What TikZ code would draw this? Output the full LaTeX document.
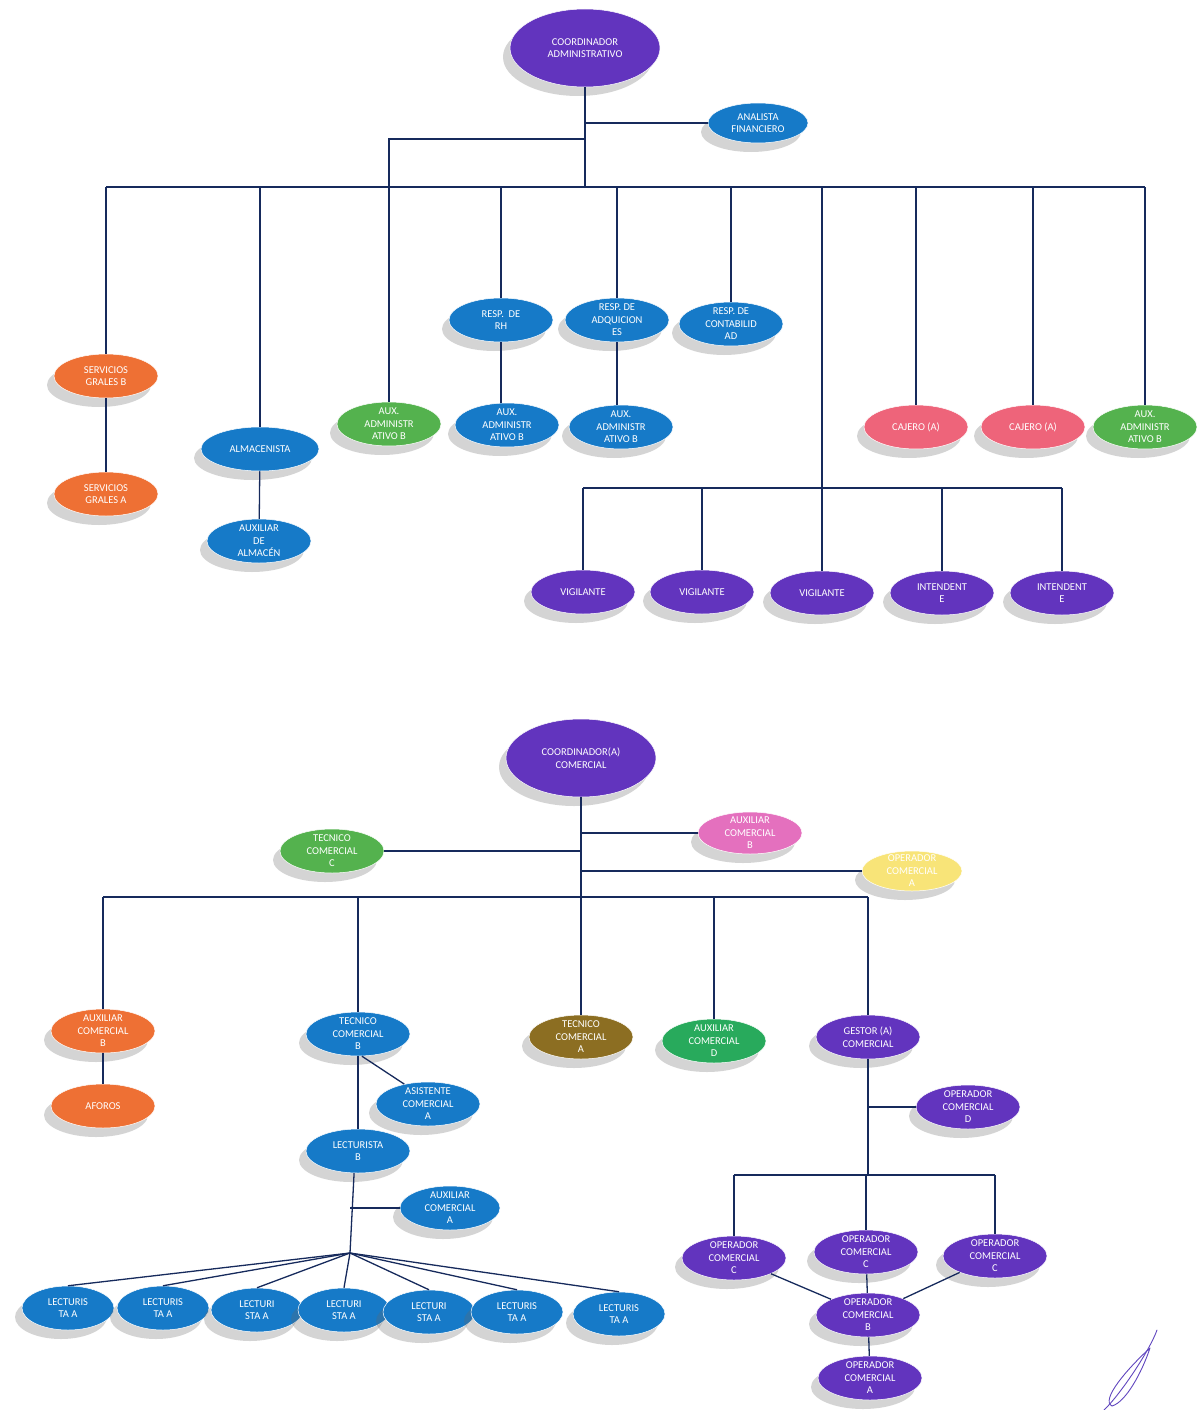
\documentclass[tikz,border=0pt]{standalone}
\usepackage{fontspec}
\setmainfont{Carlito}
\usetikzlibrary{shapes.geometric,shadows}
\definecolor{linea}{RGB}{22,42,92}
\definecolor{morado}{RGB}{98,52,190}
\definecolor{azul}{RGB}{22,122,200}
\definecolor{naranja}{RGB}{238,112,52}
\definecolor{verde}{RGB}{84,178,78}
\definecolor{verdeB}{RGB}{40,170,92}
\definecolor{rosa}{RGB}{238,100,122}
\definecolor{rosaB}{RGB}{228,112,190}
\definecolor{amarillo}{RGB}{248,228,120}
\definecolor{olivo}{RGB}{140,110,34}
\definecolor{tinta}{RGB}{96,70,190}

\begin{document}
\begin{tikzpicture}[x=1pt,y=-1pt,
    puesto/.style={ellipse, draw=white, line width=0.5pt, inner xsep=0pt, inner ysep=-4pt,
        minimum width=104pt, minimum height=44pt, text=white, align=center,
        font=\fontsize{10.5}{12.5}\selectfont,
        drop shadow={shadow xshift=-7pt, shadow yshift=-9pt, opacity=0.28, fill=black!60}},
    jefe/.style={puesto, minimum width=150pt, minimum height=78pt},
    lect/.style={puesto, fill=azul, minimum width=92pt},
    liga/.style={draw=linea, line width=1.3pt}]
    \useasboundingbox (0,0) rectangle (1201,1410);

    % Coordinador administrativo
    \node[jefe, fill=morado] (coordAdm) at (585,48) {COORDINADOR\\ADMINISTRATIVO};
    \node[puesto, fill=azul, minimum width=100pt, minimum height=40pt] (analista) at (758,123) {ANALISTA\\FINANCIERO};

    \node[puesto, fill=naranja] (servB) at (106,376) {SERVICIOS\\GRALES B};
    \node[puesto, fill=naranja] (servA) at (106,494) {SERVICIOS\\GRALES A};
    \node[puesto, fill=azul, minimum width=118pt] (almac) at (260,449) {ALMACENISTA};
    \node[puesto, fill=azul] (auxAlm) at (259,541) {AUXILIAR\\DE\\ALMACÉN};
    \node[puesto, fill=verde] (auxAdmG1) at (389,424) {AUX.\\ADMINISTR\\ATIVO B};
    \node[puesto, fill=azul] (respRH) at (501,320) {RESP. \ DE\\RH};
    \node[puesto, fill=azul] (respAdq) at (617,320) {RESP. DE\\ADQUICION\\ES};
    \node[puesto, fill=azul] (respCont) at (731,324) {RESP. DE\\CONTABILID\\AD};
    \node[puesto, fill=azul] (auxAdm1) at (507,425) {AUX.\\ADMINISTR\\ATIVO B};
    \node[puesto, fill=azul] (auxAdm2) at (621,427) {AUX.\\ADMINISTR\\ATIVO B};
    \node[puesto, fill=rosa] (cajero1) at (916,427) {CAJERO (A)};
    \node[puesto, fill=rosa] (cajero2) at (1033,427) {CAJERO (A)};
    \node[puesto, fill=verde] (auxAdmG2) at (1145,427) {AUX.\\ADMINISTR\\ATIVO B};

    \node[puesto, fill=morado] (vig1) at (583,592) {VIGILANTE};
    \node[puesto, fill=morado] (vig2) at (702,592) {VIGILANTE};
    \node[puesto, fill=morado] (vig3) at (822,593) {VIGILANTE};
    \node[puesto, fill=morado] (int1) at (942,593) {INTENDENT\\E};
    \node[puesto, fill=morado] (int2) at (1062,593) {INTENDENT\\E};

    \coordinate (bus1) at (585,187);
    \coordinate (rama1) at (585,139);
    \coordinate (bus2) at (822,488);

    \draw[liga] (coordAdm) -- (bus1);
    \draw[liga] (coordAdm |- analista) -- (analista);
    \draw[liga] (rama1) -- (auxAdmG1 |- rama1) -- (auxAdmG1);
    \draw[liga] (servB |- bus1) -- (auxAdmG2 |- bus1);
    \draw[liga] (servB |- bus1) -- (servB);
    \draw[liga] (servB) -- (servA);
    \draw[liga] (almac |- bus1) -- (almac);
    \draw[liga] (almac) -- (auxAlm);
    \draw[liga] (respRH |- bus1) -- (respRH);
    \draw[liga] (respRH) -- (respRH |- auxAdm1.north);
    \draw[liga] (respAdq |- bus1) -- (respAdq);
    \draw[liga] (respAdq) -- (respAdq |- auxAdm2.north);
    \draw[liga] (respCont |- bus1) -- (respCont);
    \draw[liga] (cajero1 |- bus1) -- (cajero1);
    \draw[liga] (cajero2 |- bus1) -- (cajero2);
    \draw[liga] (auxAdmG2 |- bus1) -- (auxAdmG2);
    \draw[liga] (vig3 |- bus1) -- (vig3);
    \draw[liga] (vig1 |- bus2) -- (int2 |- bus2);
    \draw[liga] (vig1 |- bus2) -- (vig1);
    \draw[liga] (vig2 |- bus2) -- (vig2);
    \draw[liga] (int1 |- bus2) -- (int1);
    \draw[liga] (int2 |- bus2) -- (int2);

    % Coordinador comercial
    \node[jefe, fill=morado] (coordCom) at (581,758) {COORDINADOR(A)\\COMERCIAL};
    \node[puesto, fill=rosaB, minimum height=42pt] (auxComRosa) at (750,833) {AUXILIAR\\COMERCIAL\\B};
    \node[puesto, fill=verde] (tecComC) at (332,851) {TECNICO\\COMERCIAL\\C};
    \node[puesto, fill=amarillo, minimum width=100pt, minimum height=40pt] (opComAm) at (912,871) {OPERADOR\\COMERCIAL\\A};

    \node[puesto, fill=naranja] (auxComNar) at (103,1031) {AUXILIAR\\COMERCIAL\\B};
    \node[puesto, fill=naranja] (aforos) at (103,1106) {AFOROS};
    \node[puesto, fill=azul] (tecComB) at (358,1034) {TECNICO\\COMERCIAL\\B};
    \node[puesto, fill=azul] (asist) at (428,1104) {ASISTENTE\\COMERCIAL\\A};
    \node[puesto, fill=azul] (lecB) at (358,1151) {LECTURISTA\\B};
    \node[puesto, fill=azul, minimum width=100pt] (auxComA) at (450,1208) {AUXILIAR\\COMERCIAL\\A};
    \node[puesto, fill=olivo] (tecComA) at (581,1037) {TECNICO\\COMERCIAL\\A};
    \node[puesto, fill=verdeB] (auxComD) at (714,1041) {AUXILIAR\\COMERCIAL\\D};
    \node[puesto, fill=morado] (gestor) at (868,1037) {GESTOR (A)\\COMERCIAL};
    \node[puesto, fill=morado] (opD) at (968,1107) {OPERADOR\\COMERCIAL\\D};
    \node[puesto, fill=morado] (opC1) at (734,1258) {OPERADOR\\COMERCIAL\\C};
    \node[puesto, fill=morado] (opC2) at (866,1252) {OPERADOR\\COMERCIAL\\C};
    \node[puesto, fill=morado] (opC3) at (995,1256) {OPERADOR\\COMERCIAL\\C};
    \node[puesto, fill=morado] (opB) at (868,1315) {OPERADOR\\COMERCIAL\\B};
    \node[puesto, fill=morado] (opA) at (870,1378) {OPERADOR\\COMERCIAL\\A};

    \node[lect] (lec1) at (68,1308) {LECTURIS\\TA A};
    \node[lect] (lec2) at (163,1308) {LECTURIS\\TA A};
    \node[lect] (lec3) at (257,1310) {LECTURI\\STA A};
    \node[lect] (lec4) at (344,1310) {LECTURI\\STA A};
    \node[lect] (lec5) at (429,1312) {LECTURI\\STA A};
    \node[lect] (lec6) at (517,1312) {LECTURIS\\TA A};
    \node[lect] (lec7) at (619,1314) {LECTURIS\\TA A};

    \coordinate (bus3) at (581,897);
    \coordinate (abanico) at (350,1253);
    \coordinate (bus4) at (868,1175);

    \draw[liga] (coordCom) -- (bus3);
    \draw[liga] (coordCom |- auxComRosa) -- (auxComRosa);
    \draw[liga] (coordCom |- tecComC) -- (tecComC);
    \draw[liga] (coordCom |- opComAm) -- (opComAm);
    \draw[liga] (auxComNar |- bus3) -- (gestor |- bus3);
    \draw[liga] (auxComNar |- bus3) -- (auxComNar);
    \draw[liga] (auxComNar) -- (aforos);
    \draw[liga] (tecComB |- bus3) -- (tecComB);
    \draw[liga] (tecComB) -- (lecB);
    \draw[liga] (tecComB.-80) -- (asist.140);
    \draw[liga] (tecComA |- bus3) -- (tecComA);
    \draw[liga] (auxComD |- bus3) -- (auxComD);
    \draw[liga] (gestor |- bus3) -- (gestor);

    \draw[liga] (lecB.-100) -- (abanico);
    \draw[liga] (abanico |- auxComA) -- (auxComA);
    \draw[liga] (abanico) -- (lec1.north);
    \draw[liga] (abanico) -- (lec2.north);
    \draw[liga] (abanico) -- (lec3.north);
    \draw[liga] (abanico) -- (lec4.north);
    \draw[liga] (abanico) -- (lec5.north);
    \draw[liga] (abanico) -- (lec6.north);
    \draw[liga] (abanico) -- (lec7.north);

    \draw[liga] (gestor) -- (bus4);
    \draw[liga] (gestor |- opD) -- (opD);
    \draw[liga] (opC1 |- bus4) -- (opC3 |- bus4);
    \draw[liga] (opC1 |- bus4) -- (opC1);
    \draw[liga] (opC2 |- bus4) -- (opC2);
    \draw[liga] (opC3 |- bus4) -- (opC3);
    \draw[liga] (opC1) -- (opB);
    \draw[liga] (opC2) -- (opB);
    \draw[liga] (opC3) -- (opB);
    \draw[liga] (opB) -- (opA);

    % firma
    \draw[tinta, line width=0.9pt, line cap=round]
        (1157,1330) .. controls (1150,1350) and (1120,1395) .. (1104,1410);
    \draw[tinta, line width=0.9pt, line cap=round]
        (1150,1348) .. controls (1128,1368) and (1100,1400) .. (1112,1406)
        .. controls (1126,1402) and (1142,1372) .. (1150,1348);
\end{tikzpicture}
\end{document}
